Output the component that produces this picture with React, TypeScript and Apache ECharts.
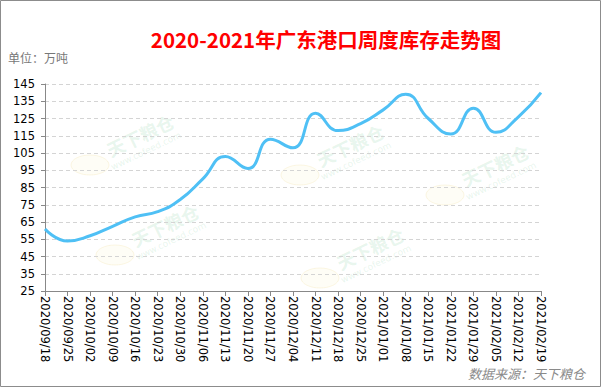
import React, { useEffect, useRef } from "react";
import * as echarts from "echarts";

const categories = [
  "2020/09/18", "2020/09/25", "2020/10/02", "2020/10/09", "2020/10/16", "2020/10/23",
  "2020/10/30", "2020/11/06", "2020/11/13", "2020/11/20", "2020/11/27", "2020/12/04",
  "2020/12/11", "2020/12/18", "2020/12/25", "2021/01/01", "2021/01/08", "2021/01/15",
  "2021/01/22", "2021/01/29", "2021/02/05", "2021/02/12", "2021/02/19",
];
const inventory = [61, 54, 57, 62.5, 68, 71, 78, 90, 103, 96, 113, 108, 128, 118, 122, 130, 139, 125, 116, 131, 117, 126, 140];

const titleText = "2020-2021年广东港口周度库存走势图";
const unitText = "单位：万吨";
const sourceText = "数据来源：天下粮仓";
const yMin = 25;
const yMax = 145;
const yStep = 10;

const watermarks = [
  [140, 135], [165, 225], [350, 145], [370, 248], [495, 165],
];

export default function App() {
  const ref = useRef<HTMLDivElement>(null);
  useEffect(() => {
    if (!ref.current) return;
    const chart = echarts.init(ref.current, null, { renderer: "svg" });
    const wm: any[] = [];
    watermarks.forEach(([x, y]) => {
      wm.push({
        type: "text", x, y, rotation: Math.PI / 7, z: -1,
        style: { text: "天下粮仓", fill: "rgba(120,200,150,0.18)", font: "bold 18px 'Noto Sans CJK SC'", align: "center", verticalAlign: "middle" },
      });
      wm.push({
        type: "text", x: x + 6, y: y + 16, rotation: Math.PI / 7, z: -1,
        style: { text: "www.cofeed.com", fill: "rgba(120,200,150,0.18)", font: "9px 'DejaVu Sans'", align: "center", verticalAlign: "middle" },
      });
      wm.push({
        type: "ellipse", shape: { cx: x - 50, cy: y + 30, rx: 19, ry: 10 }, z: -1,
        style: { fill: "rgba(250,235,180,0.12)", stroke: "rgba(240,220,150,0.25)" },
      });
    });
    chart.setOption({
      animation: false,
      backgroundColor: "#ffffff",
      title: {
        text: titleText,
        left: 321,
        textAlign: "center",
        top: 24,
        textStyle: { color: "#ff0000", fontSize: 20.5, fontWeight: "bold", fontFamily: "'Noto Sans CJK SC'" },
      },
      graphic: [
        {
          type: "rect", shape: { x: 0.5, y: 0.5, width: 600, height: 386 },
          style: { fill: "none", stroke: "#8c8c8c", lineWidth: 1 }, silent: true,
        },
        {
          type: "text", x: 8, y: 57,
          style: { text: unitText, fill: "#777777", font: "12px 'Noto Sans CJK SC'", verticalAlign: "middle" },
        },
        {
          type: "text", x: 585, y: 373,
          style: { text: sourceText, fill: "#8a8a8a", font: "italic 13px 'Noto Sans CJK SC'", align: "right", verticalAlign: "middle" },
        },
        ...wm,
      ],
      grid: { left: 45, right: 60, top: 84, bottom: 96 },
      xAxis: {
        type: "category",
        data: categories,
        boundaryGap: false,
        axisLine: { lineStyle: { color: "#888888", width: 1 } },
        axisTick: { show: true, interval: 0, length: 5, lineStyle: { color: "#888888" } },
        axisLabel: {
          interval: 0, rotate: -90, margin: 5, color: "#000000",
          fontSize: 11.5, fontFamily: "'DejaVu Sans'",
        },
        splitLine: { show: false },
      },
      yAxis: {
        type: "value",
        min: yMin,
        max: yMax,
        interval: yStep,
        axisLine: { show: true, lineStyle: { color: "#888888", width: 1 } },
        axisTick: { show: true, length: 4, lineStyle: { color: "#888888" } },
        axisLabel: { margin: 10, color: "#000000", fontSize: 11.5, fontFamily: "'DejaVu Sans'" },
        splitLine: { show: true, lineStyle: { color: "#d4d4d4", type: [4, 3], width: 1 } },
      },
      series: [
        {
          type: "line",
          data: inventory,
          smooth: 0.5,
          symbol: "none",
          lineStyle: { color: "#4fc0f5", width: 3 },
        },
      ],
    });
    return () => chart.dispose();
  }, []);
  return (
    <div
      ref={ref}
      style={{ position: "fixed", left: 0, top: 0, width: 601, height: 387 }}
    />
  );
}
